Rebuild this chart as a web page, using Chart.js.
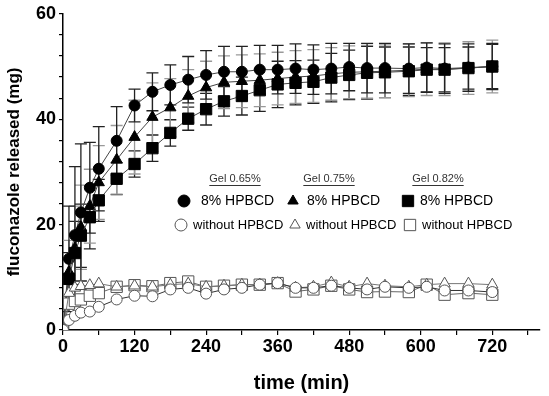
<!DOCTYPE html>
<html>
<head>
<meta charset="utf-8">
<script src="https://cdn.jsdelivr.net/npm/chart.js@4.4.1/dist/chart.umd.min.js"></script>
<style>
  html, body { margin: 0; padding: 0; background: #fff; }
  #wrap { width: 549px; height: 396px; position: relative; }
</style>
</head>
<body>
<div id="wrap"><canvas id="chart"></canvas></div>
<script>
// sampling times (min)
const times = [0, 10, 20, 30, 45, 60, 90, 120, 150, 180, 210, 240, 270, 300, 330, 360, 390, 420, 450, 480, 510, 540, 580, 610, 640, 680, 720];

// 8% HPBCD gels
const gel065 = [0, 13.5, 18, 22.3, 27, 30.6, 35.9, 42.6, 45.2, 46.5, 47.5, 48.4, 49, 49, 49.4, 49.4, 49.6, 49.4, 49.6, 49.9, 49.7, 49.7, 49.6, 49.8, 49.6, 49.8, 50];
const gel065Err = [0, 10, 13, 13, 8.6, 8, 6.5, 3.1, 3.6, 3.8, 4.4, 4.6, 4.8, 4.8, 4.6, 4.6, 4.7, 4.7, 4.8, 4.5, 4.7, 4.7, 4.7, 4.7, 4.7, 4.5, 4.4];
const gel075 = [0, 11, 15.5, 19.5, 23.5, 28, 32.3, 36.6, 40.4, 42.2, 44.4, 46, 47, 47.2, 47.4, 47.7, 48, 48.2, 48.6, 48.9, 49, 49.1, 49.3, 49.5, 49.5, 49.7, 50];
const gel075Err = [0, 6, 8, 8, 7, 7, 6.5, 7, 6.5, 5.5, 5, 5, 5, 5, 5, 5, 5, 5, 5, 5, 5, 5, 5, 5, 5, 5, 5];
const gel082 = [0, 9.7, 14.6, 17.9, 21.4, 24.6, 28.7, 31.5, 34.5, 37.4, 40.1, 41.9, 43.4, 44.4, 45.5, 46.6, 46.9, 47.1, 47.9, 48.4, 48.8, 48.9, 49.1, 49.4, 49.4, 49.7, 50];
const gel082Err = [0, 5, 6, 6, 6, 4, 3, 2.5, 2.5, 2.5, 2.2, 3, 2.8, 3.6, 4, 4.4, 4.2, 4.1, 4.6, 4.7, 5, 4.8, 4.6, 4.2, 4.2, 4, 4.2];

// gels without HPBCD
const plain065 = [0, 1.9, 2.7, 3.3, 3.5, 4.4, 5.8, 6.5, 6.4, 7.7, 8, 6.9, 7.7, 8, 8.6, 8.9, 8, 8, 8.4, 8, 7.7, 8.2, 8, 8.2, 7.5, 7.5, 7.2];
const plain075 = [0, 7, 8, 8.3, 8.5, 8.8, 8.2, 8.4, 8.2, 8.6, 8.8, 8.2, 8.4, 8.6, 8.6, 8.9, 8, 8.2, 9, 8.2, 8.8, 8.4, 8.2, 8.6, 8.8, 8.8, 8.6];
const plain082 = [0, 5, 5.5, 5.8, 6.5, 7, 8.2, 8.5, 8.3, 8.9, 9.2, 8.2, 8.4, 8.6, 8.6, 8.9, 7.3, 7.7, 8.4, 7.7, 7.2, 7.3, 7.2, 8.6, 6.7, 7, 6.7];

const xTickLabels = [0, 120, 240, 360, 480, 600, 720];
const yTickLabels = [0, 20, 40, 60];

const legendGels = ['Gel 0.65%', 'Gel 0.75%', 'Gel 0.82%'];
const legendRows = ['8% HPBCD', 'without HPBCD'];

const FONT = '"Liberation Sans", Arial, sans-serif';

function pts(ys) {
    return times.map((t, i) => ({ x: t, y: ys[i] }));
}

function series(label, ys, style, radius, filled, lineColor, err, errColor) {
    return {
        label: label,
        data: pts(ys),
        err: err,
        errColor: errColor,
        borderColor: lineColor,
        borderWidth: 1,
        pointStyle: style,
        pointRadius: radius,
        pointBorderWidth: 1,
        pointBorderColor: filled ? '#000' : '#555',
        pointBackgroundColor: filled ? '#000' : '#fff',
        tension: 0,
        fill: false
    };
}

// error bars, drawn with the chart scales
const errorBars = {
    id: 'errorBars',
    beforeDatasetsDraw(chart) {
        const ctx = chart.ctx;
        const xs = chart.scales.x, ys = chart.scales.y;
        ctx.save();
        chart.data.datasets.forEach(ds => {
            if (!ds.err) return;
            ctx.strokeStyle = ds.errColor;
            ctx.lineWidth = 1.3;
            ds.data.forEach((p, i) => {
                const e = ds.err[i];
                if (!e) return;
                const px = xs.getPixelForValue(p.x);
                const top = ys.getPixelForValue(p.y + e);
                const bot = ys.getPixelForValue(p.y - e);
                ctx.beginPath();
                ctx.moveTo(px, top); ctx.lineTo(px, bot);
                ctx.moveTo(px - 6, top); ctx.lineTo(px + 6, top);
                ctx.moveTo(px - 6, bot); ctx.lineTo(px + 6, bot);
                ctx.stroke();
            });
        });
        ctx.restore();
    }
};

function drawMark(ctx, style, x, y, filled) {
    ctx.fillStyle = filled ? '#000' : '#fff';
    ctx.strokeStyle = filled ? '#000' : '#555';
    ctx.lineWidth = 1;
    Chart.helpers.drawPoint(ctx, { pointStyle: style, radius: style === 'rect' ? 8 : 6, borderWidth: 1 }, x, y);
}

// legend block inside the plot
const gelLegend = {
    id: 'gelLegend',
    afterDraw(chart) {
        const ctx = chart.ctx;
        ctx.save();
        const gelX = [235, 329, 438];
        ctx.fillStyle = '#333';
        ctx.font = '11px ' + FONT;
        ctx.textAlign = 'center';
        ctx.textBaseline = 'middle';
        legendGels.forEach((g, i) => {
            ctx.fillText(g, gelX[i], 179);
            const w = ctx.measureText(g).width;
            ctx.fillRect(gelX[i] - w / 2, 185, w, 1);
        });
        ctx.textAlign = 'left';
        const styles = ['circle', 'triangle', 'rect'];
        const mark1 = [184, 293, 408], text1 = [201, 307, 420];
        const mark2 = [181, 295, 410], text2 = [193, 306, 422];
        styles.forEach((s, i) => {
            drawMark(ctx, s, mark1[i], 201, true);
            drawMark(ctx, s, mark2[i], 225, false);
            ctx.fillStyle = '#000';
            ctx.font = '14px ' + FONT;
            ctx.fillText(legendRows[0], text1[i], 201);
            ctx.font = '13px ' + FONT;
            ctx.fillText(legendRows[1], text2[i], 225);
        });
        ctx.restore();
    }
};

new Chart(document.getElementById('chart'), {
    type: 'line',
    data: {
        datasets: [
            series('without HPBCD 0.65', plain065, 'circle', 5.5, false, '#333', null),
            series('without HPBCD 0.75', plain075, 'triangle', 6.5, false, '#777', null),
            series('without HPBCD 0.82', plain082, 'rect', 8, false, '#666', null),
            series('8% HPBCD 0.82', gel082, 'rect', 8, true, '#444', gel082Err, '#222'),
            series('8% HPBCD 0.75', gel075, 'triangle', 6.5, true, '#444', gel075Err, '#999'),
            series('8% HPBCD 0.65', gel065, 'circle', 5.5, true, '#444', gel065Err, '#222')
        ]
    },
    options: {
        responsive: true,
        maintainAspectRatio: false,
        animation: false,
        layout: { padding: { top: 10, right: 3, left: 0, bottom: 0 } },
        plugins: {
            legend: { display: false },
            tooltip: { enabled: false }
        },
        scales: {
            x: {
                type: 'linear',
                min: 0,
                max: 800,
                afterFit(scale) { scale.height = 66; },
                afterBuildTicks(scale) {
                    const t = [];
                    for (let v = 0; v <= 780; v += 60) t.push({ value: v });
                    scale.ticks = t;
                },
                grid: { display: true, drawOnChartArea: false, drawTicks: true, tickLength: 5, color: '#000', lineWidth: 1.2 },
                border: { display: true, color: '#000', width: 1.5 },
                ticks: {
                    autoSkip: false,
                    maxRotation: 0,
                    padding: 1,
                    color: '#000',
                    font: { family: FONT, size: 18, weight: 'bold' },
                    callback: v => xTickLabels.includes(v) ? String(v) : ''
                },
                title: {
                    display: true,
                    text: 'time (min)',
                    color: '#000',
                    font: { family: FONT, size: 20, weight: 'bold' },
                    padding: { top: 0, bottom: 1 }
                }
            },
            y: {
                type: 'linear',
                min: 0,
                max: 60,
                afterFit(scale) { scale.width = 63; },
                afterBuildTicks(scale) {
                    const t = [];
                    for (let v = 0; v <= 60; v += 4) t.push({ value: v });
                    scale.ticks = t;
                },
                grid: { display: true, drawOnChartArea: false, drawTicks: true, tickLength: 4, color: '#000', lineWidth: 1.2 },
                border: { display: true, color: '#000', width: 1.5 },
                ticks: {
                    autoSkip: false,
                    padding: 3,
                    color: '#000',
                    font: { family: FONT, size: 18, weight: 'bold' },
                    callback: v => yTickLabels.includes(v) ? String(v) : ''
                },
                title: {
                    display: true,
                    text: 'fluconazole released (mg)',
                    color: '#000',
                    font: { family: FONT, size: 17, weight: 'bold' },
                    padding: { top: 4, bottom: 0 }
                }
            }
        }
    },
    plugins: [errorBars, gelLegend]
});
</script>
</body>
</html>
